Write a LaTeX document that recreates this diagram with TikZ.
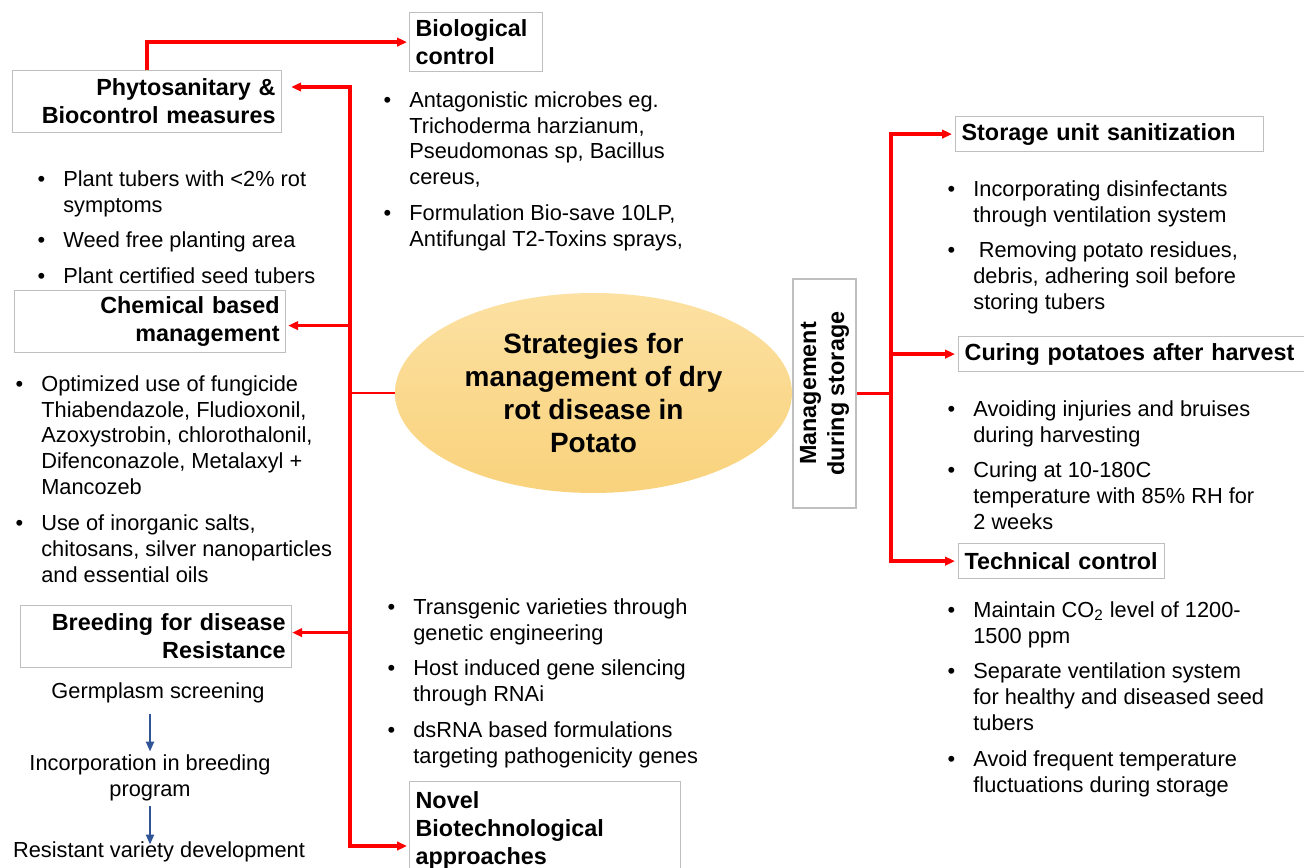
\documentclass[tikz,border=0pt]{standalone}
\usepackage{fontspec}
\setmainfont{Liberation Sans}
\usepackage{tikz}
\usetikzlibrary{arrows.meta,shapes.geometric,calc}
\definecolor{linered}{RGB}{255,0,0}
\definecolor{boxgray}{RGB}{191,191,191}
\definecolor{stepblue}{RGB}{47,85,151}
\definecolor{hubtop}{RGB}{252,225,162}
\definecolor{hubbottom}{RGB}{249,210,124}
\newcommand\lstfont{\fontsize{12.4}{14.74}\selectfont}
\newcommand\boxfont{\fontsize{13.3}{15.9}\selectfont\bfseries}
\newcommand\hubfont{\fontsize{15.9}{18.7}\selectfont\bfseries}
\newcommand\itemdot{\llap{\textbullet\hspace{0.36cm}}}
\tikzset{
  head/.style={draw=boxgray, line width=0.7pt, anchor=north west, inner xsep=0.12cm, inner ysep=0pt, font=\boxfont},
  bullets/.style={anchor=north west, inner sep=0pt, align=left, font=\lstfont},
  flowtext/.style={inner sep=0pt, align=center, font=\lstfont},
  hub/.style={ellipse, top color=hubtop, bottom color=hubbottom, draw=none, minimum width=7.94cm, minimum height=4cm, inner sep=0pt, align=center, font=\hubfont},
  feed/.style={draw=linered, line width=2pt},
  tie/.style={draw=linered, line width=1.3pt},
  stepflow/.style={draw=stepblue, line width=1.2pt, -{Triangle[length=0.2cm,width=0.16cm]}}
}
\begin{document}
\begin{tikzpicture}[x=0.02cm, y=-0.02cm, >={Triangle[length=0.2cm,width=0.17cm]}]
\useasboundingbox (0,0) rectangle (1304,868);
\node[hub] (hub) at (593.5,393) {Strategies for\\management of dry\\rot disease in\\Potato};
% left side: headings
\node[head, text width=5.14cm, minimum height=1.24cm, align=right] (phyto) at (12,70) {Phytosanitary \&\\Biocontrol measures};
\node[head, text width=2.42cm, minimum height=1.18cm, align=left] (bio) at (409,12) {Biological\\control};
\node[head, text width=5.18cm, minimum height=1.24cm, align=right] (chem) at (14,290) {Chemical based\\management};
\node[head, text width=5.18cm, minimum height=1.24cm, align=right] (breed) at (20,605) {Breeding for disease\\Resistance};
\node[head, text width=5.18cm, minimum height=1.94cm, align=left] (novel) at (409,781) {Novel\\Biotechnological\\approaches};
% right side: headings
\node[head, rotate=90, anchor=center, minimum width=4.58cm, minimum height=1.26cm, inner xsep=0pt, align=center] (mgmt) at (824.5,393.5) {Management\\during storage};
\node[head, text width=5.92cm, minimum height=0.7cm, align=left] (ssan) at (955,116) {Storage unit sanitization};
\node[head, text width=6.8cm, minimum height=0.7cm, align=left] (cure) at (958,336) {Curing potatoes after harvest};
\node[head, text width=3.88cm, minimum height=0.7cm, align=left] (tech) at (958,543) {Technical control};
% bullet lists
\node[bullets] (phyList) at (63,170) {\itemdot Plant tubers with <2\% rot\\symptoms\\[0.2cm]\itemdot Weed free planting area\\[0.2cm]\itemdot Plant certified seed tubers};
\node[bullets] (bioList) at (409,91) {\itemdot Antagonistic microbes eg.\\Trichoderma harzianum,\\Pseudomonas sp, Bacillus\\cereus,\\[0.2cm]\itemdot Formulation Bio-save 10LP,\\Antifungal T2-Toxins sprays,};
\node[bullets] (chemList) at (41,375) {\itemdot Optimized use of fungicide\\Thiabendazole, Fludioxonil,\\Azoxystrobin, chlorothalonil,\\Difenconazole, Metalaxyl +\\Mancozeb\\[0.2cm]\itemdot Use of inorganic salts,\\chitosans, silver nanoparticles\\and essential oils};
\node[bullets] (novList) at (413,598) {\itemdot Transgenic varieties through\\genetic engineering\\[0.2cm]\itemdot Host induced gene silencing\\through RNAi\\[0.2cm]\itemdot dsRNA based formulations\\targeting pathogenicity genes};
\node[bullets] (ssanList) at (973,180) {\itemdot Incorporating disinfectants\\through ventilation system\\[0.2cm]\itemdot\hspace*{0.25em}Removing potato residues,\\debris, adhering soil before\\storing tubers};
\node[bullets] (cureList) at (973,400) {\itemdot Avoiding injuries and bruises\\during harvesting\\[0.2cm]\itemdot Curing at 10-180C\\temperature with 85\% RH for\\2 weeks};
\node[bullets] (techList) at (973,601) {\itemdot Maintain CO\textsubscript{2} level of 1200-\\1500 ppm\\[0.2cm]\itemdot Separate ventilation system\\for healthy and diseased seed\\tubers\\[0.2cm]\itemdot Avoid frequent temperature\\fluctuations during storage};
% breeding steps
\node[flowtext] (gerScr) at (158,693) {Germplasm screening};
\node[flowtext] (incBr) at (150,778) {Incorporation in breeding\\program};
\node[flowtext] (resVar) at (159,852) {Resistant variety development};
\draw[stepflow, shorten <=0.2cm, shorten >=0.06cm] (incBr.north |- gerScr.south) -- (incBr.north);
\draw[stepflow, shorten <=0.1cm, shorten >=-0.06cm] (incBr.south) -- (incBr.south |- resVar.north);
% red connectors
\coordinate (lTop) at (350,87);
\coordinate (lBot) at (350,846);
\coordinate (lJoin) at (350,393);
\coordinate (rJoin) at (891,393.5);
\draw[tie] (lJoin) -- (hub);
\draw[feed, <->, shorten <=0.18cm, shorten >=0.04cm] (lTop -| phyto.east) -- (lTop) -- (lBot) -- (lBot -| novel.west);
\draw[feed, ->, shorten >=0.04cm] ($(chem.east -| lTop)+(0,4)$) -- ($(chem.east)+(0,4)$);
\draw[feed, ->] ($(breed.east -| lTop)+(0,-4)$) -- ($(breed.east)+(0,-4)$);
\draw[feed, ->, shorten >=0.04cm] (phyto.north) |- (bio.west);
\draw[tie] (mgmt) -- (rJoin);
\draw[feed, <->, shorten <=0.06cm, shorten >=0.06cm] (ssan.west) -- (ssan.west -| rJoin) -- (tech.west -| rJoin) -- (tech.west);
\draw[feed, ->, shorten >=0.06cm] (rJoin |- cure.west) -- (cure.west);
\end{tikzpicture}
\end{document}
